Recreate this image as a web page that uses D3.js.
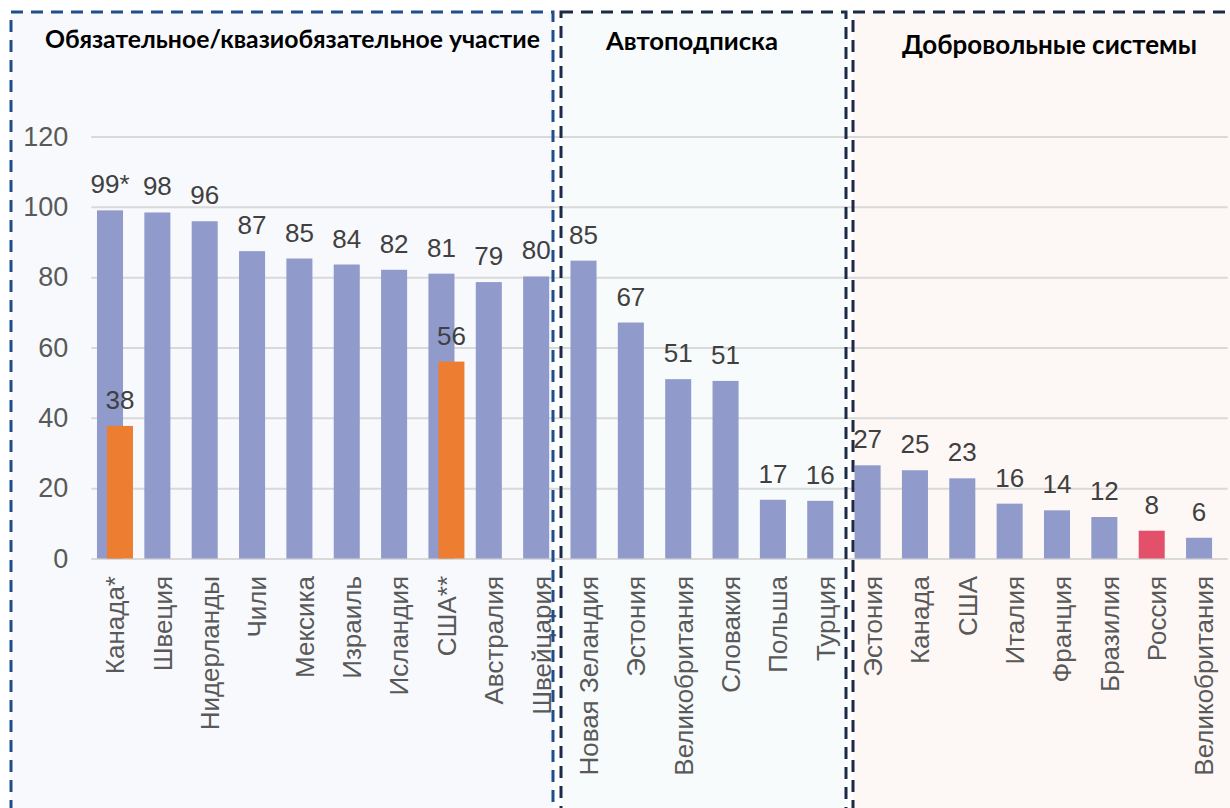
<!DOCTYPE html>
<html>
<head>
<meta charset="utf-8">
<script src="https://cdn.jsdelivr.net/npm/d3@7"></script>
<style>
  html, body { margin: 0; padding: 0; background: #ffffff; }
  svg { display: block; }
</style>
</head>
<body>
<svg id="chart" width="1230" height="808"></svg>
<script>
// ---- data ----
const categories = ["Канада*", "Швеция", "Нидерланды", "Чили", "Мексика", "Израиль", "Исландия", "США**", "Австралия", "Швейцария",
  "Новая Зеландия", "Эстония", "Великобритания", "Словакия", "Польша", "Турция",
  "Эстония", "Канада", "США", "Италия", "Франция", "Бразилия", "Россия", "Великобритания"];
const blueValues = [99, 98.4, 95.9, 87.4, 85.3, 83.6, 82.1, 81.0, 78.6, 80.2,
  84.7, 67.1, 51.0, 50.5, 16.7, 16.4,
  26.5, 25.1, 22.8, 15.6, 13.7, 11.8, 7.9, 5.9];
const blueLabelSuffix = ["*", "", "", "", "", "", "", "", "", "",
  "", "", "", "", "", "",
  "", "", "", "", "", "", "", ""];
const orangeValues = [37.7, null, null, null, null, null, null, 56.0, null, null,
  null, null, null, null, null, null,
  null, null, null, null, null, null, null, null];
const highlighted = ["Россия"];
const groupTitles = ["Обязательное/квазиобязательное участие", "Автоподписка", "Добровольные системы"];
const yTicks = [0, 20, 40, 60, 80, 100, 120];

// ---- layout ----
const svg = d3.select("#chart");
const x = d3.scaleBand().domain(d3.range(categories.length)).range([91.3, 1227.7]).paddingInner(0).paddingOuter(0);
const y = d3.scaleLinear().domain([0, 120]).range([558.5, 136.5]);
const step = x.bandwidth();
const barW = step * 0.55;
const off = step * 0.105;
const cx = i => x(i) + step / 2;

const boxes = [
  { x0: 11, x1: 553, fill: "#f8f9fd", stroke: "#1f4e8a", title: groupTitles[0], tx: 45, tw: 495, ty: 48 },
  { x0: 561, x1: 846, fill: "#f7fbfb", stroke: "#1b2b47", title: groupTitles[1], tx: 606, tw: 172, ty: 50 },
  { x0: 853, x1: 1245, fill: "#fdf8f6", stroke: "#1b2b47", title: groupTitles[2], tx: 902, tw: 295, ty: 54 }
];
const boxTop = 12, boxBottom = 830;
const numFont = "'Liberation Sans', Arial, sans-serif";

// backgrounds
svg.append("g").selectAll("rect").data(boxes).join("rect")
  .attr("x", d => d.x0).attr("y", boxTop)
  .attr("width", d => d.x1 - d.x0).attr("height", boxBottom - boxTop)
  .attr("fill", d => d.fill);

// gridlines + y ticks
const yAxis = d3.axisLeft(y).tickValues(yTicks).tickSize(-(x.range()[1] - x.range()[0])).tickPadding(23);
const gAxis = svg.append("g").attr("transform", `translate(${x.range()[0]},0)`).call(yAxis);
gAxis.select(".domain").remove();
gAxis.selectAll(".tick line").attr("stroke", "#d9d9d9").attr("stroke-width", 2);
gAxis.selectAll(".tick text")
  .attr("fill", "#595959")
  .style("font-family", numFont)
  .style("font-size", "27px");

// blue bars
svg.append("g").selectAll("rect").data(blueValues).join("rect")
  .attr("x", (d, i) => cx(i) - off - barW / 2)
  .attr("y", d => y(d))
  .attr("width", barW)
  .attr("height", d => y(0) - y(d))
  .attr("fill", (d, i) => highlighted.includes(categories[i]) ? "#e3506a" : "#919bcb");

// orange bars
const orangeData = orangeValues.map((v, i) => ({ v, i })).filter(d => d.v != null);
svg.append("g").selectAll("rect").data(orangeData).join("rect")
  .attr("x", d => cx(d.i) + off - barW / 2)
  .attr("y", d => y(d.v))
  .attr("width", barW)
  .attr("height", d => y(0) - y(d.v))
  .attr("fill", "#ed7d31");

// value labels
svg.append("g").selectAll("text").data(blueValues).join("text")
  .attr("x", (d, i) => cx(i) - off)
  .attr("y", d => y(d) - 17)
  .attr("text-anchor", "middle")
  .attr("fill", "#404040")
  .style("font-family", numFont).style("font-size", "26px")
  .text((d, i) => Math.round(d) + blueLabelSuffix[i]);

svg.append("g").selectAll("text").data(orangeData).join("text")
  .attr("x", d => cx(d.i) + off)
  .attr("y", d => y(d.v) - 17)
  .attr("text-anchor", "middle")
  .attr("fill", "#404040")
  .style("font-family", numFont).style("font-size", "26px")
  .text(d => Math.round(d.v));

// category labels
svg.append("g").selectAll("text").data(categories).join("text")
  .attr("transform", (d, i) => `translate(${cx(i)},576) rotate(-90)`)
  .attr("text-anchor", "end")
  .attr("dy", "0.36em")
  .attr("fill", "#595959")
  .style("font-family", numFont).style("font-size", "26px")
  .text(d => d);

// dashed borders
svg.append("g").selectAll("rect").data(boxes).join("rect")
  .attr("x", d => d.x0).attr("y", boxTop)
  .attr("width", d => d.x1 - d.x0).attr("height", boxBottom - boxTop)
  .attr("fill", "none")
  .attr("stroke", d => d.stroke)
  .attr("stroke-width", 3)
  .attr("stroke-dasharray", "12,8");

// titles, fitted to width
svg.append("g").selectAll("text").data(boxes).join("text")
  .attr("x", d => d.tx).attr("y", d => d.ty)
  .attr("fill", "#000000")
  .style("font-family", "Lato, 'Open Sans', sans-serif")
  .style("font-weight", "bold")
  .style("font-size", "20px")
  .text(d => d.title)
  .each(function (d) {
    const w = this.getComputedTextLength();
    d3.select(this).style("font-size", (20 * d.tw / w).toFixed(2) + "px");
  });
</script>
</body>
</html>
